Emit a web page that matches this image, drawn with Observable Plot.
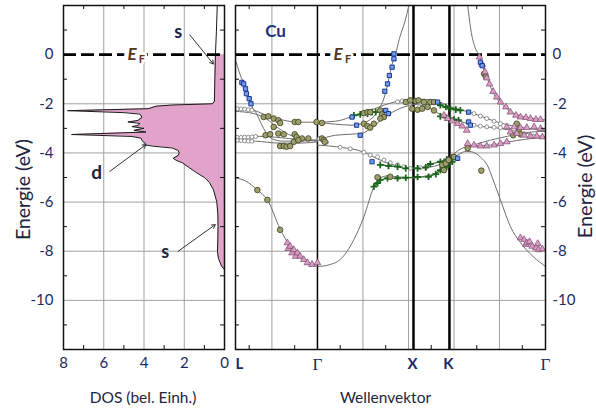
<!DOCTYPE html>
<html><head><meta charset="utf-8">
<script src="https://cdn.jsdelivr.net/npm/d3@7"></script>
<script src="https://cdn.jsdelivr.net/npm/@observablehq/plot@0.6"></script>
<style>
body{margin:0;background:#fff;}
#wrap{position:relative;width:596px;height:412px;overflow:hidden;background:#fff;}
#wrap svg{position:absolute;top:0;}
</style></head><body><div id="wrap"></div>
<script>
// ---------- DOS panel data (energy in eV, DOS in arb. units) ----------
const dosE   = [2, 1, 0, -1, -1.9, -2.0, -2.05, -2.1, -2.2, -2.28, -2.36, -2.42, -2.55, -2.68, -2.74, -2.8, -2.88, -2.93, -3.0, -3.08, -3.15, -3.25, -3.33, -3.4, -3.5, -3.6, -3.68, -3.73, -3.8, -3.9, -4.0, -4.1, -4.22, -4.3, -4.4, -4.6, -4.8, -5.0, -5.2, -5.5, -6.0, -6.5, -7.0, -7.5, -8.0, -8.3, -8.6, -8.75];
const dosVal = [0.36, 0.40, 0.45, 0.48, 0.50, 0.6, 2.6, 3.4, 3.8, 7.8, 5.0, 4.2, 4.1, 4.3, 4.8, 4.2, 4.3, 4.6, 4.0, 4.5, 3.9, 7.6, 4.6, 4.15, 4.1, 3.95, 3.9, 3.5, 2.6, 2.3, 2.25, 2.3, 2.55, 2.4, 2.1, 1.75, 1.4, 1.0, 0.75, 0.55, 0.38, 0.33, 0.32, 0.33, 0.35, 0.3, 0.15, 0.0];
const dosTicks = [8, 6, 4, 2, 0];
const dosGrid = [6, 4, 2];
const dosMinor = [7, 5, 3, 1];
const eTicks = [-10, -8, -6, -4, -2, 0];
const eGrid = [-10, -8, -6, -4, -2];
const eMinor = [1, -1, -3, -5, -7, -9, -11];
// annotations in the DOS panel: [DOS, E]
const sTopText = [2.3, 0.9],  sTopArrow = [1.72, 0.8, 0.55, -0.38];
const dText = [6.35, -4.8],   dArrow = [5.7, -4.75, 3.9, -3.66];
const sBotText = [2.95, -8.06], sBotArrow = [2.3, -8.0, 0.46, -6.92];
const efDos = 4.4;

// ---------- band structure (k in 2π/a along L-Γ-X-K-Γ, E in eV) ----------
const symK = [-0.9, 0, 1.055, 1.45, 2.505];
const symLabel = ["L", "Γ", "X", "K", "Γ"];
const kGrid = [-0.5, 0.5, 1.0, 1.5, 2.0];
const kMinor = [-0.75, -0.25, 0.25, 0.75, 1.25, 1.75, 2.25];
const efK = 0.27;
const cuLabel = [-0.46, 0.93];

const bandLow = [[-0.90,-5.02],[-0.79,-5.14],[-0.66,-5.51],[-0.55,-5.91],[-0.41,-7.09],[-0.30,-7.81],[-0.19,-8.26],[-0.11,-8.46],[0,-8.62],[0.14,-8.54],[0.25,-8.34],[0.40,-7.53],[0.51,-6.60],[0.62,-5.38],[0.66,-5.10],[0.71,-4.98],[0.76,-4.94],[0.91,-4.98],[1.055,-5.02],[1.19,-4.94],[1.32,-4.78],[1.41,-4.53],[1.45,-4.37],[1.54,-4.09],[1.64,-3.93],[1.71,-3.97],[1.79,-4.17],[1.87,-4.53],[1.93,-5.10],[2.01,-5.91],[2.12,-7.00],[2.23,-7.65],[2.37,-8.22],[2.505,-8.62]];
const bandSteepL = [[-0.89,-0.32],[-0.85,-0.81],[-0.81,-1.17],[-0.78,-1.58],[-0.74,-1.98],[-0.67,-2.39],[-0.62,-2.79],[-0.56,-3.20],[-0.49,-3.44],[-0.38,-3.52],[-0.19,-3.52],[0,-3.48]];
const bandLG1 = [[-0.90,-2.19],[-0.70,-2.27],[-0.56,-2.47],[-0.37,-2.67],[-0.19,-2.75],[0,-2.75]];
const bandLG2 = [[-0.90,-2.31],[-0.71,-2.39],[-0.57,-2.59],[-0.46,-2.91],[-0.32,-3.24],[-0.15,-3.45],[0,-3.52]];
const bandLG3 = [[-0.90,-3.36],[-0.68,-3.32],[-0.46,-3.36],[-0.24,-3.44],[0,-3.48]];
const bandLG4 = [[-0.90,-3.48],[-0.68,-3.52],[-0.41,-3.60],[-0.19,-3.60],[0,-3.55]];
const bandGXa = [[0,-2.75],[0.20,-2.71],[0.36,-2.55],[0.53,-2.35],[0.69,-2.11],[0.88,-1.90],[1.055,-1.82]];
const bandGXb = [[0,-2.75],[0.20,-2.83],[0.38,-2.87],[0.53,-2.75],[0.63,-2.47],[0.68,-2.19],[0.73,-1.78],[0.76,-1.38],[0.79,-0.89],[0.82,-0.40],[0.86,0.04],[0.90,0.65],[0.96,1.34],[1.0,1.94],[1.02,2.3]];
const bandGXc = [[0,-3.48],[0.20,-3.28],[0.36,-3.24],[0.49,-3.20],[0.60,-2.96],[0.71,-2.63],[0.86,-2.27],[1.055,-2.02]];
const bandGXd = [[0,-3.68],[0.25,-3.77],[0.51,-3.97],[0.62,-4.17],[0.80,-4.45],[1.055,-4.62]];
const bandXK1 = [[1.055,-1.82],[1.19,-1.82],[1.32,-1.90],[1.45,-2.11]];
const bandXK2 = [[1.055,-2.02],[1.19,-2.11],[1.35,-2.43],[1.45,-2.59]];
const bandXK3 = [[1.055,-4.62],[1.24,-4.57],[1.41,-4.33],[1.45,-4.21]];
const bandKG1 = [[1.64,2.3],[1.65,2.0],[1.69,0.9],[1.73,0.3],[1.77,0.0],[1.80,-0.3],[1.84,-0.75],[1.88,-1.1],[1.93,-1.55],[2.01,-1.95],[2.12,-2.32],[2.26,-2.52],[2.40,-2.62],[2.505,-2.66]];
const bandKG2 = [[1.45,-2.11],[1.60,-2.27],[1.71,-2.39],[1.98,-2.75],[2.23,-2.96],[2.505,-3.08]];
const bandKG3 = [[1.45,-2.59],[1.60,-2.75],[1.71,-2.87],[2.01,-3.00],[2.23,-3.16],[2.505,-3.36]];
const bandKG4 = [[1.45,-4.21],[1.55,-3.89],[1.68,-3.72],[1.90,-3.68],[2.09,-3.56],[2.29,-3.44],[2.505,-3.36]];
const bandKG5 = [[1.68,-3.72],[1.90,-3.48],[2.09,-3.32],[2.23,-3.20],[2.505,-3.12]];

// experimental points [k, E]
const blueSquares = [[-0.83,-1.13],[-0.81,-1.19],[-0.79,-1.39],[-0.78,-1.59],[-0.75,-1.79],[-0.73,-2.00],[0.84,0.03],[0.84,-0.17],[0.82,-0.51],[0.79,-0.85],[0.77,-1.19],[0.74,-1.49],[0.38,-2.54],[0.43,-2.87],[0.47,-3.28],[0.75,-2.27],[0.78,-2.40],[0.60,-4.36],[1.32,-1.93],[1.66,-2.34],[1.66,-2.74],[1.68,-2.87],[1.54,-4.22],[1.79,-0.31],[1.81,-0.45]];
const oliveCircles = [[-0.66,-5.51],[-0.55,-5.91],[-0.41,-7.13],
[-0.59,-2.54],[-0.54,-2.51],[-0.48,-2.60],[-0.43,-2.67],[-0.41,-2.78],[-0.48,-2.94],[-0.25,-2.74],[-0.21,-2.74],[-0.01,-2.74],[0.05,-2.78],
[-0.57,-3.28],[-0.52,-3.24],[-0.43,-3.21],[-0.37,-3.24],[-0.25,-3.24],[-0.23,-3.35],[-0.17,-3.41],[-0.10,-3.41],[0.05,-3.41],[0.07,-3.48],[-0.41,-3.72],[-0.37,-3.72],[-0.34,-3.75],[-0.30,-3.72],[-0.26,-3.55],[-0.21,-3.48],[0.08,-3.55],
[0.51,-2.38],[0.55,-2.34],[0.58,-2.34],[0.69,-2.27],[0.71,-2.43],[0.73,-2.54],[0.51,-2.81],[0.55,-2.91],[0.58,-2.97],[0.62,-2.81],[0.69,-2.60],
[0.97,-1.93],[1.02,-1.86],[1.08,-1.89],[1.11,-1.86],[1.17,-1.93],[1.04,-2.20],[1.10,-2.24],[1.15,-2.20],[1.21,-2.13],[0.66,-4.99],[0.80,-4.97],
[1.24,-1.93],[1.28,-1.93],[1.28,-2.27],[1.37,-4.49],[1.41,-4.43],[1.44,-4.29],[1.50,-4.16],[1.39,-4.70],
[1.65,-3.81],[1.80,-4.72],[1.83,-0.78],[1.85,-0.89],[2.19,-2.81],[2.21,-3.08],[2.23,-3.24],[2.15,-3.28]];
const whiteCircles = [[-0.88,-2.20],[-0.84,-2.21],[-0.80,-2.22],[-0.76,-2.24],[-0.72,-2.26],
[-0.88,-3.37],[-0.84,-3.37],[-0.80,-3.36],[-0.76,-3.36],[-0.72,-3.35],[-0.68,-3.33],
[-0.88,-3.49],[-0.84,-3.50],[-0.80,-3.51],[-0.76,-3.52],[-0.72,-3.52],
[0.02,-3.42],[0.10,-3.56],
[0.25,-3.77],[0.36,-3.83],[0.51,-3.97],[0.58,-4.09],[0.66,-4.16],[0.73,-4.29],[0.80,-4.40],[0.88,-4.49],[0.95,-4.56],[1.02,-4.63],[1.13,-4.60],[1.19,-4.59],
[0.88,-1.92],[0.93,-1.88],
[1.72,-2.40],[1.79,-2.50],[1.86,-2.60],[1.94,-2.71],[2.01,-2.81],
[1.72,-2.87],[1.79,-2.91],[1.86,-2.94],[1.94,-2.96],[2.01,-2.97]];
const green1 = [[0.40,-2.47],[0.47,-2.43],[0.55,-2.40],[0.60,-2.34],[0.64,-2.34]];
const green2 = [[0.69,-4.49],[0.78,-4.53],[0.88,-4.56],[0.97,-4.63],[1.10,-4.63],[1.19,-4.59],[1.24,-4.45],[1.35,-4.36],[1.42,-4.26],[1.48,-4.18]];
const green3 = [[0.62,-5.37],[0.66,-5.23],[0.69,-5.10],[0.77,-5.03],[0.88,-5.03],[0.97,-5.01],[1.10,-4.98],[1.22,-4.97],[1.30,-4.86],[1.35,-4.70],[1.42,-4.56],[1.48,-4.36]];
const green4 = [[1.35,-2.06],[1.41,-2.13],[1.46,-2.20],[1.52,-2.24],[1.57,-2.27]];
const green5 = [[1.35,-2.51],[1.41,-2.56],[1.46,-2.60],[1.50,-2.64],[1.55,-2.67]];
const pinkTriangles = [[-0.33,-7.66],[-0.32,-7.89],[-0.30,-7.80],[-0.28,-8.07],[-0.26,-7.94],[-0.24,-8.21],[-0.22,-8.07],[-0.19,-8.21],[-0.15,-8.34],[-0.11,-8.47],[-0.06,-8.54],[0,-8.47],
[2.23,-7.46],[2.27,-7.53],[2.29,-7.73],[2.30,-7.66],[2.33,-7.61],[2.36,-7.80],[2.40,-7.87],[2.42,-7.69],[2.43,-7.94],[2.47,-7.91],
[1.78,-0.1],[1.81,-0.4],[1.84,-0.7],[1.86,-0.95],[1.89,-1.2],[1.93,-1.5],[1.97,-1.73],[2.01,-1.93],[2.07,-2.13],[2.12,-2.34],[2.18,-2.47],[2.23,-2.54],[2.29,-2.56],[2.34,-2.60],[2.40,-2.64],[2.45,-2.64],
[1.39,-2.47],[1.43,-2.60],[1.48,-2.70],[1.54,-2.81],[1.59,-2.91],[1.64,-3.08],
[2.08,-2.94],[2.16,-2.94],[2.23,-2.97],[2.30,-2.97],[2.38,-2.94],[2.45,-3.01],
[2.12,-3.15],[2.19,-3.21],[2.27,-3.28],[2.34,-3.32],[2.41,-3.32],[2.47,-3.35],
[1.65,-3.62],[1.72,-3.68],[1.79,-3.72],[1.86,-3.72],[1.94,-3.68],[2.01,-3.62],[2.08,-3.55]];

// ---------- drawing ----------
const navy = "#1d2c5e", pink = "#e2a3ca", gridC = "#a0a0a0", efColor = "#5a3214", textC = "#1e2540";
const font = "Lato, 'Open Sans', sans-serif";
const H = 412, mTop = 5, mBottom = 63, innerH = H - mTop - mBottom;

const dos = dosE.map((E, i) => ({E, v: dosVal[i]}));
const pts = a => a.map(([k, E]) => ({k, E}));
const bandList = {bandLow, bandSteepL, bandLG1, bandLG2, bandLG3, bandLG4, bandGXa, bandGXb, bandGXc, bandGXd, bandXK1, bandXK2, bandXK3, bandKG1, bandKG2, bandKG3, bandKG4, bandKG5};
const bands = Object.entries(bandList).flatMap(([id, a]) => a.map(([k, E]) => ({id, k, E})));
const greens = Object.entries({green1, green2, green3, green4, green5}).flatMap(([id, a]) => a.map(([k, E]) => ({id, k, E})));
const sym = symK.map((k, i) => ({k, s: symLabel[i]}));

function efLabel(x, y) {
  return [
    Plot.text(["E"], {x: () => x, y: () => y, dx: -4, fontSize: 17, fontStyle: "italic", fontWeight: "bold", fill: efColor, stroke: "white", strokeWidth: 9, fontFamily: font}),
    Plot.text(["F"], {x: () => x, y: () => y, dx: 6, dy: 5, fontSize: 11, fontWeight: "bold", fill: efColor, stroke: "white", strokeWidth: 5, fontFamily: font})
  ];
}

// Panel A: DOS
const wA = 230, mLA = 63, mRA = 6, innerWA = wA - mLA - mRA;
const plotA = Plot.plot({
  width: wA, height: H, marginLeft: mLA, marginRight: mRA, marginTop: mTop, marginBottom: mBottom,
  style: {fontFamily: font, fontSize: "15px", color: navy, background: "none", overflow: "visible"},
  x: {domain: [8, 0], axis: null},
  y: {domain: [-12, 2], axis: null},
  marks: [
    Plot.gridX(dosGrid, {stroke: gridC, strokeOpacity: 1}),
    Plot.gridY(eGrid, {stroke: gridC, strokeOpacity: 1}),
    Plot.areaX(dos, {filter: d => d.E <= 0, y: "E", x: "v", fill: pink}),
    Plot.lineX(dos, {y: "E", x: "v", stroke: "#1a1a1a", strokeWidth: 1}),
    Plot.ruleY([0], {stroke: "#000", strokeWidth: 2.8, strokeDasharray: "13,5"}),
    Plot.tickX(dosMinor, {x: d => d, insetBottom: innerH - 4, stroke: "#111"}),
    Plot.tickX(dosMinor, {x: d => d, insetTop: innerH - 4, stroke: "#111"}),
    Plot.tickY(eMinor, {y: d => d, insetRight: innerWA - 4, stroke: "#111"}),
    Plot.tickY(eMinor, {y: d => d, insetLeft: innerWA - 4, stroke: "#111"}),
    Plot.frame({stroke: "#111", strokeWidth: 1.5}),
    ...efLabel(efDos, 0),
    Plot.arrow([sTopArrow, dArrow, sBotArrow], {x1: d => d[0], y1: d => d[1], x2: d => d[2], y2: d => d[3], stroke: "#333", strokeWidth: 1, headLength: 6}),
    Plot.text([sTopText, sBotText], {x: d => d[0], y: d => d[1], text: () => "s", fontSize: 18, fontWeight: "bold", fill: textC, fontFamily: font}),
    Plot.text([dText], {x: d => d[0], y: d => d[1], text: () => "d", fontSize: 19, fontWeight: "bold", fill: textC, fontFamily: font}),
    Plot.axisX({ticks: dosTicks, anchor: "bottom", tickSize: 0, tickPadding: 8, tickFormat: d => String(d), label: null, fill: navy, fontSize: 15}),
    Plot.axisY({ticks: eTicks, anchor: "left", tickSize: 0, tickPadding: 10, tickFormat: d => String(d), label: null, fill: navy, fontSize: 15}),
    Plot.text(["DOS (bel. Einh.)"], {frameAnchor: "bottom", dy: 49, dx: -1, lineAnchor: "middle", textAnchor: "middle", fontSize: 15.5, fill: textC, fontFamily: font}),
    Plot.text(["Energie (eV)"], {frameAnchor: "left", dx: -40, dy: 12, rotate: -90, textAnchor: "middle", lineAnchor: "middle", fontSize: 19.5, fill: textC, fontFamily: font})
  ]
});
plotA.style.left = "0px";

// Panel B: band structure
const wB = 366, mLB = 5, mRB = 51, innerWB = wB - mLB - mRB;
const plotB = Plot.plot({
  width: wB, height: H, marginLeft: mLB, marginRight: mRB, marginTop: mTop, marginBottom: mBottom,
  style: {fontFamily: font, fontSize: "15px", color: navy, background: "none", overflow: "visible"},
  x: {domain: [-0.9, 2.505], axis: null},
  y: {domain: [-12, 2], axis: null},
  marks: [
    Plot.gridX(kGrid, {stroke: gridC, strokeOpacity: 1}),
    Plot.gridY(eGrid, {stroke: gridC, strokeOpacity: 1}),
    Plot.ruleX([symK[1]], {stroke: "#000", strokeWidth: 1.5}),
    Plot.ruleX([symK[2], symK[3]], {stroke: "#000", strokeWidth: 2.5}),
    Plot.ruleY([0], {stroke: "#000", strokeWidth: 2.8, strokeDasharray: "13,5"}),
    Plot.line(bands, {x: "k", y: "E", z: "id", stroke: "#6e6e6e", strokeWidth: 1, curve: "monotone-x", clip: true}),
    Plot.line(greens, {x: "k", y: "E", z: "id", stroke: "#1f6a1f", strokeWidth: 1.2}),
    Plot.dot(pts(whiteCircles), {x: "k", y: "E", r: 2, fill: "white", stroke: "#777", strokeWidth: 0.8}),
    Plot.dot(greens, {x: "k", y: "E", symbol: "plus", r: 2.3, stroke: "#1a641a", strokeWidth: 1.8}),
    Plot.dot(pts(oliveCircles), {x: "k", y: "E", r: 2.8, fill: "#9c9f69", stroke: "#3c3d22", strokeWidth: 0.8}),
    Plot.dot(pts(pinkTriangles), {x: "k", y: "E", symbol: "triangle", r: 2.5, fill: "#d89ec2", stroke: "#7d4670", strokeWidth: 0.7}),
    Plot.dot(pts(blueSquares), {x: "k", y: "E", symbol: "square", r: 2.4, fill: "#6f9fe6", stroke: "#1b3596", strokeWidth: 1}),
    Plot.tickX(kMinor, {x: d => d, insetBottom: innerH - 4, stroke: "#111"}),
    Plot.tickX(kMinor, {x: d => d, insetTop: innerH - 4, stroke: "#111"}),
    Plot.tickY(eMinor, {y: d => d, insetRight: innerWB - 4, stroke: "#111"}),
    Plot.tickY(eMinor, {y: d => d, insetLeft: innerWB - 4, stroke: "#111"}),
    Plot.frame({stroke: "#111", strokeWidth: 1.5}),
    ...efLabel(efK, 0),
    Plot.text([cuLabel], {x: d => d[0], y: d => d[1], text: () => "Cu", fontSize: 17, fontWeight: "bold", fill: "#1d2f80", fontFamily: font}),
    Plot.text(sym.filter(d => d.s === "L"), {x: "k", text: "s", frameAnchor: "bottom", dy: 15, dx: 4, lineAnchor: "middle", textAnchor: "middle", fontSize: 15, fontWeight: "bold", fill: navy, fontFamily: font}),
    Plot.text(sym.filter(d => d.s === "X" || d.s === "K"), {x: "k", text: "s", frameAnchor: "bottom", dy: 15, dx: -1, lineAnchor: "middle", textAnchor: "middle", fontSize: 15, fontWeight: "bold", fill: navy, fontFamily: font}),
    Plot.text(sym.filter(d => d.s === "Γ"), {x: "k", text: "s", frameAnchor: "bottom", dy: 15, lineAnchor: "middle", textAnchor: "middle", fontSize: 17, fill: navy, fontFamily: "'Liberation Serif', 'DejaVu Serif', serif"}),
    Plot.axisY({ticks: eTicks, anchor: "right", tickSize: 0, tickPadding: 7, tickFormat: d => String(d), label: null, fill: navy, fontSize: 15}),
    Plot.text(["Wellenvektor"], {frameAnchor: "bottom", dy: 49, dx: -5, lineAnchor: "middle", textAnchor: "middle", fontSize: 15.5, fill: textC, fontFamily: font}),
    Plot.text(["Energie (eV)"], {frameAnchor: "right", dx: 40, dy: 9, rotate: -90, textAnchor: "middle", lineAnchor: "middle", fontSize: 20, fill: textC, fontFamily: font})
  ]
});
plotB.style.left = "230px";

const wrap = document.getElementById("wrap");
wrap.appendChild(plotA);
wrap.appendChild(plotB);
</script></body></html>
